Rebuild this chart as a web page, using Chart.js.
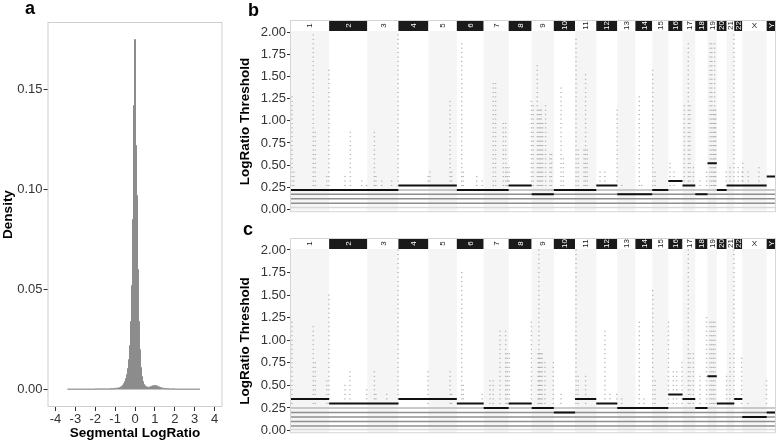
<!DOCTYPE html>
<html>
<head>
<meta charset="utf-8">
<script src="https://cdn.jsdelivr.net/npm/chart.js@4.4.1/dist/chart.umd.min.js"></script>
<style>
  body { margin: 0; background: #fff; width: 778px; height: 442px; overflow: hidden; position: relative; font-family: "Liberation Sans", Arial, sans-serif; }
  .box { position: absolute; }
  .lab { position: absolute; font-weight: bold; font-size: 18px; line-height: 1; color: #000; }
</style>
</head>
<body>
<div class="box" style="left:0;top:0;width:230px;height:442px"><canvas id="densityChart"></canvas></div>
<div class="box" style="left:230px;top:0;width:548px;height:221px"><canvas id="thresholdChartB"></canvas></div>
<div class="box" style="left:230px;top:221px;width:548px;height:221px"><canvas id="thresholdChartC"></canvas></div>
<div class="lab" style="left:25px;top:-1px">a</div>
<div class="lab" style="left:248px;top:1px">b</div>
<div class="lab" style="left:243px;top:220px">c</div>
<script>
const FONT = '"Liberation Sans", Arial, sans-serif';

// ---- panel a: histogram of segmental log ratios ----
const histX = [-3.4, -3.0, -2.6, -2.2, -1.8, -1.4, -1.1, -0.9, -0.8, -0.7,
  -0.65, -0.6, -0.55, -0.5, -0.45, -0.4, -0.35, -0.3, -0.25, -0.2,
  -0.15, -0.1, -0.05, 0, 0.05, 0.1, 0.15, 0.2, 0.25, 0.3,
  0.35, 0.4, 0.45, 0.5, 0.6, 0.7, 0.8, 0.9, 1.0, 1.1,
  1.2, 1.3, 1.4, 1.6, 1.8, 2.2, 2.6, 3.0, 3.27];
const histY = [0.0002, 0.0002, 0.0002, 0.0002, 0.0003, 0.0003, 0.0004, 0.0006, 0.0008, 0.0012,
  0.0016, 0.0022, 0.003, 0.004, 0.0055, 0.0075, 0.0105, 0.015, 0.022, 0.034,
  0.052, 0.085, 0.142, 0.175, 0.122, 0.097, 0.06, 0.034, 0.02, 0.011,
  0.0065, 0.004, 0.0026, 0.0018, 0.0012, 0.0011, 0.0014, 0.0018, 0.002, 0.0018,
  0.0013, 0.0009, 0.0006, 0.0004, 0.0003, 0.0002, 0.0002, 0.0002, 0.0002];
const densityTicksX = [-4, -3, -2, -1, 0, 1, 2, 3, 4];
const densityTicksY = [0, 0.05, 0.10, 0.15];

// ---- panels b/c: genome-wide thresholds ----
const chromNames = ['1','2','3','4','5','6','7','8','9','10','11','12','13','14','15','16','17','18','19','20','21','22','X','Y'];
const chromLenMb = [249.3, 243.2, 198.0, 191.2, 180.9, 171.1, 159.1, 146.4, 141.2, 135.5, 135.0, 133.9,
  115.2, 107.3, 102.5, 90.4, 81.2, 78.1, 59.1, 63.0, 48.1, 51.3, 155.3, 59.4];
const thresholdTicks = [0, 0.25, 0.5, 0.75, 1.0, 1.25, 1.5, 1.75, 2.0];

const levelsB = [0.27, 0.32, 0.37, 0.42, 0.47, 0.52, 0.57, 0.62, 0.67, 0.72, 0.77, 0.82, 0.87, 0.92, 0.97,
  1.02, 1.07, 1.12, 1.17, 1.22, 1.27, 1.32, 1.37, 1.42, 1.47, 1.52, 1.57, 1.62, 1.67, 1.72, 1.77, 1.82, 1.87, 1.92, 1.97];
const levelsC = [0.30, 0.35, 0.40, 0.45, 0.50, 0.55, 0.60, 0.65, 0.70, 0.75, 0.80, 0.85, 0.90, 0.95, 1.00,
  1.05, 1.10, 1.15, 1.20, 1.25, 1.30, 1.35, 1.40, 1.45, 1.50, 1.55, 1.60, 1.65, 1.70, 1.75, 1.80, 1.85, 1.90, 1.95, 2.00];

const callLevelB = [0.22, 0.22, 0.22, 0.27, 0.27, 0.22, 0.22, 0.27, 0.17, 0.22, 0.22, 0.27,
  0.17, 0.17, 0.22, 0.32, 0.27, 0.17, 0.52, 0.22, 0.27, 0.27, 0.27, 0.37];
const callLevelC = [0.35, 0.30, 0.30, 0.35, 0.35, 0.30, 0.25, 0.30, 0.25, 0.20, 0.35, 0.30,
  0.25, 0.25, 0.25, 0.40, 0.35, 0.25, 0.60, 0.30, 0.30, 0.35, 0.15, 0.20];
const greyLinesB = [0.02, 0.07, 0.12, 0.17, 0.22];
const greyLinesC = [0.01, 0.05, 0.10, 0.15, 0.20, 0.25];

// [chromosome, position (Mb), highest threshold reached]
const columnsB = [
  ['1',13,1.27],['1',25,0.44],['1',148,1.99],['1',161,0.9],['1',234,0.4],['1',248,1.57],
  ['2',101,0.4],['2',135,0.87],['2',207,0.33],['2',239,0.27],
  ['3',45,0.87],['3',55,0.4],['3',92,0.33],['3',155,0.33],['3',196,1.99],
  ['4',189,0.4],
  ['5',10,0.44],['5',138,1.23],['5',148,0.44],
  ['6',31,1.88],['6',41,0.44],['6',127,0.4],['6',162,0.33],
  ['7',61,1.43],['7',76,1.43],['7',125,0.97],['7',140,1.0],['7',150,0.47],['7',157,0.33],
  ['8',3,0.47],['8',145,1.23],
  ['9',10,1.17],['9',36,1.62],['9',46,1.12],['9',53,1.12],['9',61,1.12],['9',70,0.97],['9',89,1.17],['9',117,0.62],['9',127,0.62],
  ['10',46,1.37],['10',61,0.57],
  ['11',6,1.92],['11',20,0.67],['11',57,0.67],['11',67,1.52],['11',78,0.67],
  ['12',24,0.42],['12',55,0.42],['12',133,1.12],
  ['13',28,0.27],
  ['14',25,1.27],['14',40,0.27],
  ['15',3,1.57],['15',18,0.42],
  ['16',11,0.52],['16',36,0.42],
  ['17',11,1.17],['17',37,1.87],['17',48,1.17],['17',69,0.47],
  ['18',30,0.33],['18',72,0.42],
  ['19',16,1.87],['19',27,1.87],['19',37,1.12],['19',45,1.87],['19',52,1.12],
  ['20',60,0.44],
  ['21',21,0.47],['21',46,1.97],
  ['22',25,0.47],['22',51,0.42],
  ['X',3,0.52],['X',38,0.42],['X',106,0.47]
];
const columnsC = [
  ['1',13,1.22],['1',148,1.16],['1',161,0.76],['1',234,0.57],['1',248,1.5],
  ['2',101,0.54],['2',133,0.67],['2',239,0.45],
  ['3',45,0.67],['3',55,0.42],['3',124,0.42],['3',196,2.0],
  ['4',189,0.65],
  ['5',138,0.65],['5',148,0.42],
  ['6',31,1.77],['6',41,0.5],['6',162,0.42],
  ['7',40,0.57],['7',61,0.57],['7',104,1.12],['7',140,1.12],['7',150,0.87],
  ['8',4,0.87],['8',145,1.22],
  ['9',42,0.87],['9',46,2.0],['9',51,0.87],['9',59,0.87],['9',67,0.87],['9',85,0.77],['9',138,0.77],
  ['10',46,0.42],
  ['11',6,2.0],['11',20,0.62],['11',67,0.62],
  ['12',55,1.12],['12',87,0.42],['12',130,0.42],
  ['13',28,0.35],
  ['14',25,1.22],['14',55,0.35],
  ['15',3,1.56],['15',18,0.57],
  ['16',1,1.22],['16',32,0.65],['16',53,0.65],['16',87,0.77],
  ['17',37,2.0],['17',48,0.87],['17',69,0.87],
  ['18',30,0.62],['18',72,1.25],
  ['19',16,1.23],['19',27,1.23],['19',37,1.23],['19',48,1.23],
  ['20',62,0.62],
  ['21',21,0.87],['21',46,2.0],
  ['22',47,0.8],
  ['X',38,0.3],['X',154,0.57]
];

const chromStart = [];
let genomeLen = 0;
chromLenMb.forEach(l => { chromStart.push(genomeLen); genomeLen += l; });

const tickMarks = { drawOnChartArea: false, drawTicks: true, tickLength: 4, color: '#333' };
const tickFont = { family: FONT, size: 13 };
const titleFont = { family: FONT, size: 13.5, weight: 'bold' };

const plotFrame = {
  id: 'plotFrame',
  afterDraw(chart) {
    const a = chart.chartArea, c = chart.ctx;
    c.save();
    c.strokeStyle = '#cfcfcf';
    c.lineWidth = 1;
    c.strokeRect(a.left + 0.5, a.top + 0.5, a.right - a.left - 1, a.bottom - a.top - 1);
    c.restore();
  }
};

new Chart(document.getElementById('densityChart').getContext('2d'), {
  type: 'line',
  data: {
    datasets: [{
      data: histX.map((x, i) => ({ x: x, y: histY[i] })),
      stepped: 'middle',
      fill: 'origin',
      backgroundColor: '#8c8c8c',
      borderColor: '#8c8c8c',
      borderWidth: 1,
      pointRadius: 0
    }]
  },
  options: {
    responsive: true,
    maintainAspectRatio: false,
    animation: false,
    layout: { padding: { left: 0, right: 7.5, top: 22, bottom: 0 } },
    plugins: { legend: { display: false }, tooltip: { enabled: false } },
    scales: {
      x: {
        type: 'linear', min: -4.4, max: 4.4,
        afterBuildTicks: s => { s.ticks = densityTicksX.map(v => ({ value: v })); },
        afterFit: s => { s.height = 35; },
        ticks: { font: tickFont, color: '#333', padding: 1, maxRotation: 0, autoSkip: false },
        grid: tickMarks,
        border: { display: false },
        title: { display: true, text: 'Segmental LogRatio', font: titleFont, color: '#000', padding: { top: 0, bottom: 1 } }
      },
      y: {
        type: 'linear', min: -0.00875, max: 0.18375,
        afterBuildTicks: s => { s.ticks = densityTicksY.map(v => ({ value: v })); },
        afterFit: s => { s.width = 47.5; },
        ticks: { font: tickFont, color: '#333', padding: 1, autoSkip: false, callback: v => v.toFixed(2) },
        grid: tickMarks,
        border: { display: false },
        title: { display: true, text: 'Density', font: titleFont, color: '#000', padding: { top: 0, bottom: 0 } }
      }
    }
  },
  plugins: [plotFrame]
});

const genomeBackdrop = {
  id: 'genomeBackdrop',
  beforeDatasetsDraw(chart) {
    const a = chart.chartArea, c = chart.ctx, x = chart.scales.x;
    c.save();
    c.fillStyle = '#f5f5f5';
    chromNames.forEach((n, i) => {
      if (i % 2 === 0) {
        const x0 = x.getPixelForValue(chromStart[i]);
        const x1 = x.getPixelForValue(chromStart[i] + chromLenMb[i]);
        c.fillRect(x0, a.top, x1 - x0, a.bottom - a.top);
      }
    });
    c.restore();
  },
  afterDraw(chart, args, opts) {
    const a = chart.chartArea, c = chart.ctx, x = chart.scales.x;
    const top = opts.stripTop;
    c.save();
    chromNames.forEach((n, i) => {
      const x0 = x.getPixelForValue(chromStart[i]);
      const x1 = x.getPixelForValue(chromStart[i] + chromLenMb[i]);
      const dark = i % 2 === 1;
      c.fillStyle = dark ? '#1a1a1a' : '#ffffff';
      c.fillRect(x0, top, x1 - x0, a.top - top);
      c.save();
      c.translate((x0 + x1) / 2, (top + a.top) / 2);
      if (n !== 'X') c.rotate(-Math.PI / 2);
      c.fillStyle = dark ? '#ffffff' : '#1a1a1a';
      c.font = '8px ' + FONT;
      c.textAlign = 'center';
      c.textBaseline = 'middle';
      c.fillText(n, 0, 0.5);
      c.restore();
    });
    c.strokeStyle = '#d6d6d6';
    c.lineWidth = 1;
    c.strokeRect(a.left + 0.5, top + 0.5, a.right - a.left - 1, a.bottom - top - 1);
    c.restore();
  }
};

function dotPoints(cols, levels) {
  const pts = [];
  cols.forEach(([chr, pos, top]) => {
    const x = chromStart[chromNames.indexOf(chr)] + pos;
    levels.forEach(v => { if (v <= top + 0.005) pts.push({ x: x, y: v }); });
  });
  return pts;
}

function callSegments(calls) {
  const pts = [];
  calls.forEach((v, i) => {
    const x0 = chromStart[i], x1 = chromStart[i] + chromLenMb[i];
    pts.push({ x: x0, y: v }, { x: x1, y: v }, { x: x1, y: null });
  });
  return pts;
}

function buildThresholdChart(id, cfg) {
  // order: higher numbers are drawn first (underneath)
  const datasets = cfg.greyLines.map((v, i) => ({
    type: 'line',
    order: 3,
    data: [{ x: 0, y: v }, { x: genomeLen, y: v }],
    borderColor: i === 0 ? '#d9d9d9' : (i === cfg.greyLines.length - 1 ? '#b8b8b8' : '#8f8f8f'),
    borderWidth: 1.5,
    pointRadius: 0,
    fill: false
  }));
  datasets.push({
    type: 'scatter',
    order: 2,
    data: dotPoints(cfg.columns, cfg.levels),
    pointStyle: 'line',
    pointRadius: 0.7,
    pointHoverRadius: 0.7,
    borderColor: '#ababab',
    borderWidth: 1
  });
  datasets.push({
    type: 'line',
    order: 1,
    data: callSegments(cfg.calls),
    borderColor: '#111111',
    borderWidth: 2,
    pointRadius: 0,
    spanGaps: false,
    fill: false
  });

  return new Chart(document.getElementById(id).getContext('2d'), {
    type: 'scatter',
    data: { datasets: datasets },
    options: {
      responsive: true,
      maintainAspectRatio: false,
      animation: false,
      layout: { padding: { left: 0, right: 2, top: cfg.padTop, bottom: cfg.padBottom } },
      plugins: { legend: { display: false }, tooltip: { enabled: false }, genomeBackdrop: { stripTop: cfg.stripTop } },
      scales: {
        x: { type: 'linear', display: false, min: 0, max: genomeLen },
        y: {
          type: 'linear', min: cfg.yMin, max: cfg.yMax,
          afterBuildTicks: s => { s.ticks = thresholdTicks.map(v => ({ value: v })); },
          afterFit: s => { s.width = 60; },
          ticks: { font: tickFont, color: '#333', padding: 1, autoSkip: false, callback: v => v.toFixed(2) },
          grid: { drawOnChartArea: false, drawTicks: true, tickLength: 3, color: '#333' },
          border: { display: false },
          title: { display: true, text: 'LogRatio Threshold', font: titleFont, color: '#000', padding: { top: 7, bottom: 0 } }
        }
      }
    },
    plugins: [genomeBackdrop]
  });
}

buildThresholdChart('thresholdChartB', {
  calls: callLevelB, greyLines: greyLinesB, columns: columnsB, levels: levelsB,
  padTop: 31, padBottom: 1, stripTop: 20, yMin: -0.032, yMax: 2.014
});
buildThresholdChart('thresholdChartC', {
  calls: callLevelC, greyLines: greyLinesC, columns: columnsC, levels: levelsC,
  padTop: 28, padBottom: 7, stripTop: 17, yMin: -0.03, yMax: 2.011
});
</script>
</body>
</html>
